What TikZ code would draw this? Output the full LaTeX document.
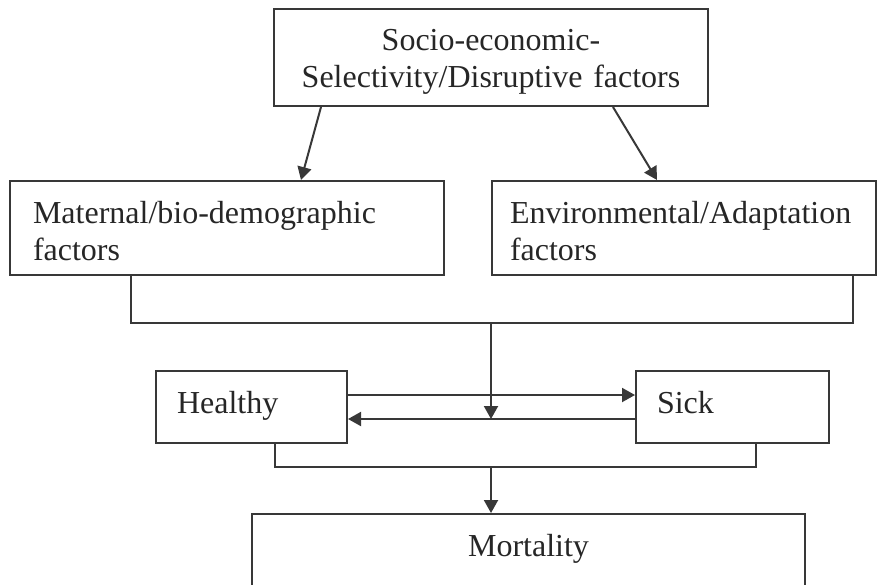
\documentclass[tikz,border=0pt]{standalone}
\usepackage{fontspec}
\setmainfont{Liberation Serif}
\usepackage{tikz}
\usetikzlibrary{arrows.meta,positioning}
\colorlet{ink}{black!78}

\begin{document}
\begin{tikzpicture}[x=0.5pt,y=-0.5pt,font={\fontsize{16}{18.5}\selectfont},b/.style={draw=ink,line width=1pt,text=black!85,inner ysep=0pt},l/.style={ink,line width=1pt},a/.style={-{Triangle[length=6.5pt,width=7pt]},ink,line width=1pt}]
\clip (0,0) rectangle (881,584);
\node[b,minimum width=217pt,minimum height=48.5pt,text height=15pt,text width=205pt,inner xsep=6pt,align=center] (soc) at (491,57.5) {Socio-economic-\\Selectivity/Disruptive factors};
\node[b,minimum width=217pt,minimum height=47pt,text height=14pt,text width=194pt,inner xsep=11.5pt,align=left] (mat) at (227,228) {Maternal/bio-demographic\\factors};
\node[b,minimum width=192pt,minimum height=47pt,text height=14pt,text width=174pt,inner xsep=9pt,align=left] (env) at (684,228) {Environmental/Adaptation\\factors};
\node[b,minimum width=95.5pt,minimum height=36pt,text height=11pt,text depth=5pt,text width=74.5pt,inner xsep=10.5pt,align=left] (hl) at (251.5,407) {Healthy};
\node[b,minimum width=96.5pt,minimum height=36pt,text height=11pt,text depth=5pt,text width=75.5pt,inner xsep=10.5pt,align=left] (sk) at (732.5,407) {Sick};
\node[b,minimum width=276.5pt,minimum height=36pt,text height=11pt,text depth=5pt] (mo) at (528.5,550) {Mortality};
\coordinate (j1) at (491,323);\coordinate (j2) at (491,467);\coordinate (lo) at ([yshift=-6pt]hl.east);
\draw[a] ([xshift=24pt]soc.south west)--([xshift=146pt]mat.north west);
\draw[a] ([xshift=-48pt]soc.south east)--([xshift=83pt]env.north west);
\draw[l] ([xshift=61pt]mat.south west)|-(j1)-|([xshift=-12pt]env.south east);
\draw[a] ([yshift=6pt]hl.east)--([yshift=6pt]sk.west);\draw[a] ([yshift=-6pt]sk.west)--(lo);
\draw[a] (j1)--(j1|-lo);
\draw[l] ([xshift=60pt]hl.south west)|-(j2)-|([xshift=60.5pt]sk.south west);
\draw[a] (j2)--(j2|-mo.north);
\end{tikzpicture}
\end{document}
